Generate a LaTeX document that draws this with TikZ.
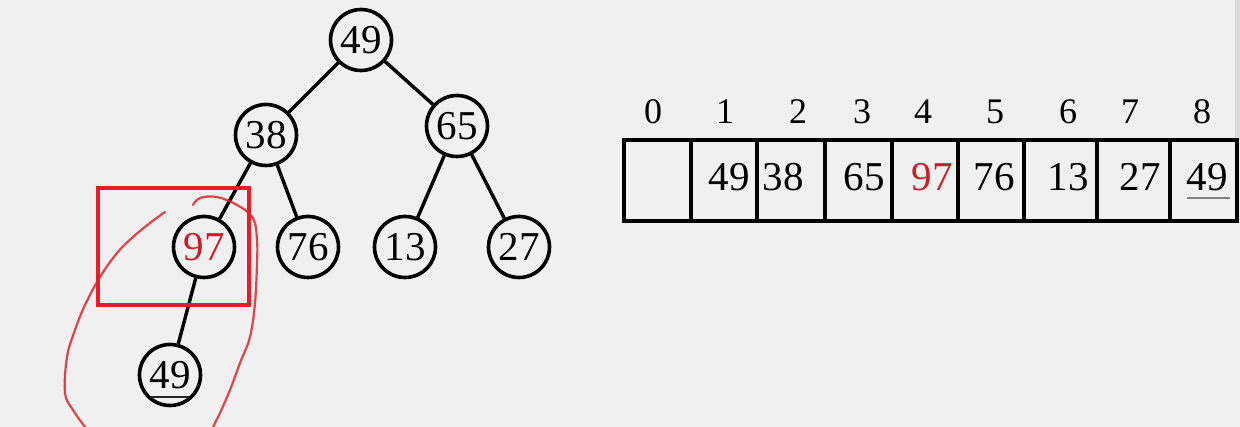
\documentclass[tikz,border=0pt]{standalone}
\usepackage{fontspec}
\setmainfont{Liberation Serif}
\definecolor{bg}{HTML}{F0F0F0}
\definecolor{numred}{HTML}{C8202A}
\definecolor{markred}{HTML}{EC1C24}
\definecolor{penred}{HTML}{D8262C}
\begin{document}
\begin{tikzpicture}[x=1pt,y=-1pt,
  tnode/.style={circle,draw=black,line width=3.6pt,minimum size=61pt,inner sep=0pt,font=\fontsize{41}{43}\selectfont},
  tedge/.style={line width=3.4pt,draw=black},
  cell/.style={rectangle,draw=black,line width=3.4pt,minimum height=81pt,inner sep=0pt},
  cnum/.style={inner sep=0pt,font=\fontsize{41}{43}\selectfont},
  idx/.style={inner sep=0pt,font=\fontsize{36}{38}\selectfont},
  pen/.style={draw=penred,line width=2.2pt,opacity=0.85,line cap=round,line join=round}]
\fill[bg] (0,0) rectangle (1240,427);
\useasboundingbox (0,0) rectangle (1240,427);
\fill[black!15] (1235,0) rectangle (1240,140);
% tree
\node[tnode] (n1) at (361,40) {49};
\node[tnode] (n2) at (266,135) {38};
\node[tnode] (n3) at (457,126) {65};
\node[tnode,text=numred] (n4) at (204,247) {97};
\node[tnode] (n5) at (308,247) {76};
\node[tnode] (n6) at (405,247) {13};
\node[tnode] (n7) at (519,247) {27};
\node[tnode] (n8) at (170,375) {49};
\draw[tedge] (n1) -- (n2);
\draw[tedge] (n1) -- (n3);
\draw[tedge] (n2) -- (n4);
\draw[tedge] (n2) -- (n5);
\draw[tedge] (n3) -- (n6);
\draw[tedge] (n3) -- (n7);
\draw[tedge] (n4) -- (n8);
\draw[line width=1.8pt,black!85] (150,397) -- (189,397);
% array cells
\node[cell,minimum width=67pt] (c0) at (657.5,180.5) {};
\node[cell,minimum width=66pt] (c1) at (724,180.5) {};
\node[cell,minimum width=68pt] (c2) at (791,180.5) {};
\node[cell,minimum width=67pt] (c3) at (858.5,180.5) {};
\node[cell,minimum width=66pt] (c4) at (925,180.5) {};
\node[cell,minimum width=66pt] (c5) at (991,180.5) {};
\node[cell,minimum width=73pt] (c6) at (1060.5,180.5) {};
\node[cell,minimum width=73pt] (c7) at (1133.5,180.5) {};
\node[cell,minimum width=67pt] (c8) at (1203.5,180.5) {};
% cell values
\node[cnum] (v1) at (729,177) {49};
\node[cnum] (v2) at (783,177) {38};
\node[cnum] (v3) at (864,177) {65};
\node[cnum,text=numred] (v4) at (932,177) {97};
\node[cnum] (v5) at (994,177) {76};
\node[cnum] (v6) at (1068,177) {13};
\node[cnum] (v7) at (1140,177) {27};
\node[cnum] (v8) at (1207,177) {49};
\draw[line width=1.4pt,black!50] (1187,198) -- (1230,198);
% indices
\node[idx] (i0) at (653,112) {0};
\node[idx] (i1) at (725,112) {1};
\node[idx] (i2) at (798,112) {2};
\node[idx] (i3) at (862,112) {3};
\node[idx] (i4) at (923,112) {4};
\node[idx] (i5) at (995,112) {5};
\node[idx] (i6) at (1068,112) {6};
\node[idx] (i7) at (1130,112) {7};
\node[idx] (i8) at (1202,112) {8};
% annotations
\draw[markred,line width=3.8pt] (98,188) rectangle (249,305);
\draw[pen] plot[smooth,tension=0.6] coordinates {(165,212) (150,223) (133,237) (117,253) (100,277) (85,305) (75,330) (67,357) (65,393) (73,410) (85,427)};
\draw[pen] plot[smooth,tension=0.6] coordinates {(193,205) (200,198) (217,197) (237,205) (253,218) (257,240) (257,263) (255,303) (250,337) (240,363) (230,390) (220,413) (213,427)};
\end{tikzpicture}
\end{document}
